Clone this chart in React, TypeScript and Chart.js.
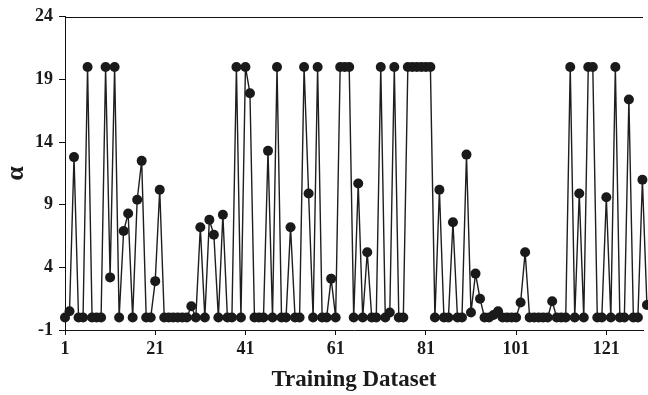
import React, { useEffect, useRef } from "react";
import { Chart, registerables } from "chart.js";

Chart.register(...registerables);

// alpha value for each training dataset index (1, 2, 3, ...)
const alphaValues: number[] = [
  0, 0.5, 12.8, 0, 0, 20, 0, 0, 0, 20,
  3.2, 20, 0, 6.9, 8.3, 0, 9.4, 12.5, 0, 0,
  2.9, 10.2, 0, 0, 0, 0, 0, 0, 0.9, 0,
  7.2, 0, 7.8, 6.6, 0, 8.2, 0, 0, 20, 0,
  20, 17.9, 0, 0, 0, 13.3, 0, 20, 0, 0,
  7.2, 0, 0, 20, 9.9, 0, 20, 0, 0, 3.1,
  0, 20, 20, 20, 0, 10.7, 0, 5.2, 0, 0,
  20, 0, 0.4, 20, 0, 0, 20, 20, 20, 20,
  20, 20, 0, 10.2, 0, 0, 7.6, 0, 0, 13.0,
  0.4, 3.5, 1.5, 0, 0, 0.2, 0.5, 0, 0, 0,
  0, 1.2, 5.2, 0, 0, 0, 0, 0, 1.3, 0,
  0, 0, 20, 0, 9.9, 0, 20, 20, 0, 0,
  9.6, 0, 20, 0, 0, 17.4, 0, 0, 11.0, 1.0,
];

const xTickValues: number[] = [1, 21, 41, 61, 81, 101, 121];
const yTickValues: number[] = [-1, 4, 9, 14, 19, 24];

const xMin = 1;
const xMax = 129.13;
const yMin = -1;
const yMax = 24;

const xTitle = "Training Dataset";
const yTitle = "α";

const serif = "'Liberation Serif', 'Times New Roman', serif";

const framePlugin = {
  id: "frameTop",
  afterDraw(chart: any) {
    const { ctx, chartArea } = chart;
    ctx.save();
    ctx.strokeStyle = "#111";
    ctx.lineWidth = 1;
    ctx.beginPath();
    ctx.moveTo(chartArea.left, Math.round(chartArea.top) + 0.5);
    ctx.lineTo(chartArea.right, Math.round(chartArea.top) + 0.5);
    ctx.stroke();
    ctx.restore();
  },
};

export default function App() {
  const canvasRef = useRef<HTMLCanvasElement | null>(null);

  useEffect(() => {
    const canvas = canvasRef.current;
    if (!canvas) return;
    const points = alphaValues.map((v, i) => ({ x: i + 1, y: v }));

    const chart = new Chart(canvas, {
      type: "line",
      data: {
        datasets: [
          {
            data: points,
            borderColor: "#1e1e1e",
            borderWidth: 1.4,
            pointRadius: 5,
            pointBackgroundColor: "#1a1a1a",
            pointBorderColor: "#1a1a1a",
            pointBorderWidth: 0,
            tension: 0,
            clip: false as any,
          },
        ],
      },
      options: {
        responsive: false,
        devicePixelRatio: 1,
        animation: false,
        events: [],
        layout: { padding: { top: 13, left: 0, right: 0, bottom: 0 } },
        plugins: {
          legend: { display: false },
          tooltip: { enabled: false },
        },
        scales: {
          x: {
            type: "linear",
            min: xMin,
            max: xMax,
            afterBuildTicks: (scale: any) => {
              scale.ticks = xTickValues.map((v) => ({ value: v }));
            },
            afterFit: (scale: any) => {
              scale.height = 65;
            },
            grid: {
              drawOnChartArea: false,
              drawTicks: true,
              tickLength: 5,
              color: "#111",
            },
            border: { color: "#111", width: 1 },
            ticks: {
              autoSkip: false,
              maxRotation: 0,
              padding: 4,
              color: "#1a1a1a",
              font: { family: serif, size: 18, weight: "bold" },
            },
            title: {
              display: true,
              text: xTitle,
              color: "#1a1a1a",
              font: { family: serif, size: 23, weight: "bold" },
              padding: { top: 0, bottom: 1 },
            },
          },
          y: {
            type: "linear",
            min: yMin,
            max: yMax,
            afterBuildTicks: (scale: any) => {
              scale.ticks = yTickValues.map((v) => ({ value: v }));
            },
            afterFit: (scale: any) => {
              scale.width = 65;
            },
            grid: {
              drawOnChartArea: false,
              drawTicks: true,
              tickLength: 6,
              color: "#111",
            },
            border: { color: "#111", width: 1 },
            ticks: {
              padding: 6,
              color: "#1a1a1a",
              font: { family: serif, size: 18, weight: "bold" },
            },
            title: {
              display: true,
              text: yTitle,
              color: "#1a1a1a",
              font: { family: serif, size: 26, weight: "bold" },
              padding: { top: 1, bottom: 0 },
            },
          },
        },
      },
      plugins: [framePlugin],
    });

    return () => {
      chart.destroy();
    };
  }, []);

  return (
    <div style={{ position: "fixed", left: 0, top: 0, width: 648, height: 395, background: "#fff" }}>
      <canvas ref={canvasRef} width={648} height={395} style={{ display: "block" }} />
    </div>
  );
}
